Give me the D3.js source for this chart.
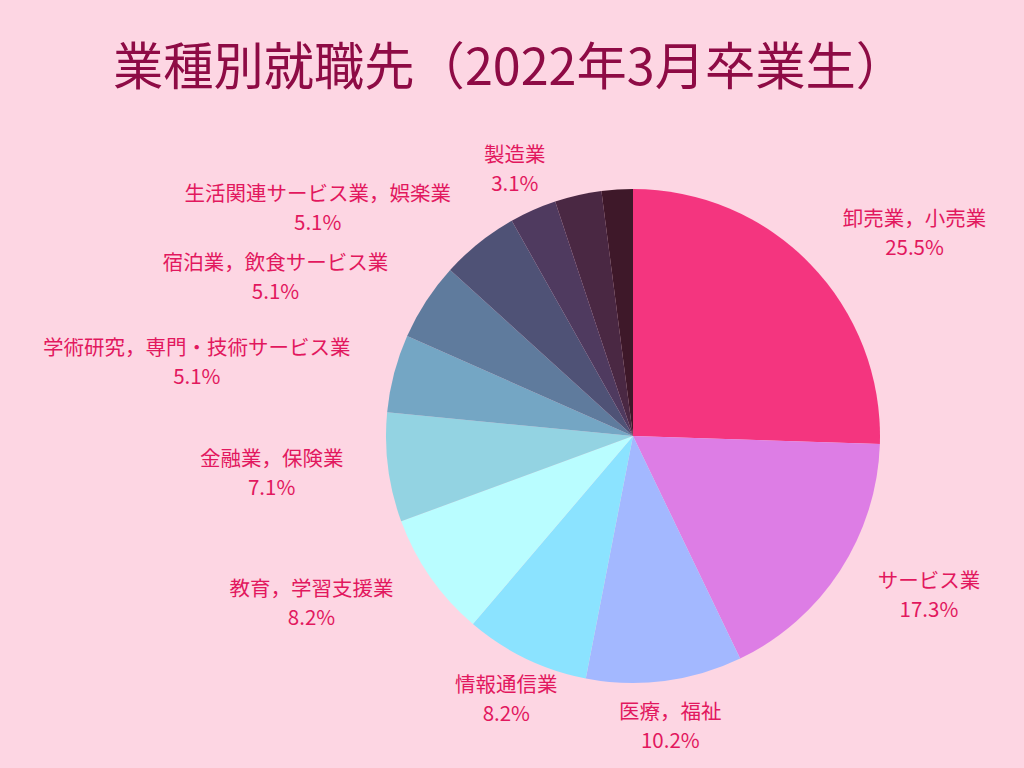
<!DOCTYPE html>
<html><head><meta charset="utf-8">
<script src="https://cdn.jsdelivr.net/npm/d3@7"></script>
<style>html,body{margin:0;padding:0;background:#FDD6E3;}svg{display:block;}</style>
</head><body><svg id="c" width="1024" height="768"></svg>
<script>
const title = "業種別就職先（2022年3月卒業生）";
const categories = ["卸売業，小売業","サービス業","医療，福祉","情報通信業","教育，学習支援業","金融業，保険業","学術研究，専門・技術サービス業","宿泊業，飲食サービス業","生活関連サービス業，娯楽業","製造業","",""];
const counts = [25,17,10,8,8,7,5,5,5,3,3,2];
const percentLabels = ["25.5%","17.3%","10.2%","8.2%","8.2%","7.1%","5.1%","5.1%","5.1%","3.1%","",""];
const colors = ["#F4357F","#DD7DE5","#A3B8FF","#8BE3FF","#B9FDFF","#93D3E2","#74A6C4","#5F7B9D","#4F5276","#4F3A5F","#4A2843","#3E1829"];

const svg = d3.select("#c");
const cx = 633, cy = 436, r = 247, lr = 292;
const font = "'Noto Sans CJK JP','Noto Sans',sans-serif";

svg.append("rect").attr("width",1024).attr("height",768).attr("fill","#FDD6E3");

svg.append("text").attr("x",113).attr("y",85)
  .attr("font-family",font).attr("font-size",51).attr("fill","#8E0B45")
  .attr("textLength",793).attr("lengthAdjust","spacingAndGlyphs")
  .text(title);

const data = categories.map((c,i)=>({c, v:counts[i], p:percentLabels[i], col:colors[i]}));
const pie = d3.pie().value(d=>d.v).sort(null);
const arcs = pie(data);
const arc = d3.arc().innerRadius(0).outerRadius(r);
const g = svg.append("g").attr("transform",`translate(${cx},${cy})`);
g.selectAll("path").data(arcs).join("path").attr("d",arc).attr("fill",d=>d.data.col);

const lg = g.selectAll("g.lab").data(arcs.filter(d=>d.data.c)).join("g").attr("class","lab");
lg.each(function(d){
  const a = (d.startAngle+d.endAngle)/2;
  const x = lr*Math.sin(a), y = -lr*Math.cos(a);
  const s = Math.sin(a);
  const sel = d3.select(this);
  const t1 = sel.append("text").attr("font-family",font).attr("font-size",20.5)
    .attr("fill","#E2185E").attr("text-anchor","middle").attr("y",y-7).text(d.data.c);
  const t2 = sel.append("text").attr("font-family",font).attr("font-size",20.5)
    .attr("fill","#E2185E").attr("text-anchor","middle").attr("y",y+22).text(d.data.p);
  const w = Math.max(t1.node().getComputedTextLength(), t2.node().getComputedTextLength());
  const mx = Math.abs(s) < 0.5 ? x : (s>0 ? x + w/2 : x - w/2);
  t1.attr("x",mx); t2.attr("x",mx);
});
</script></body></html>
